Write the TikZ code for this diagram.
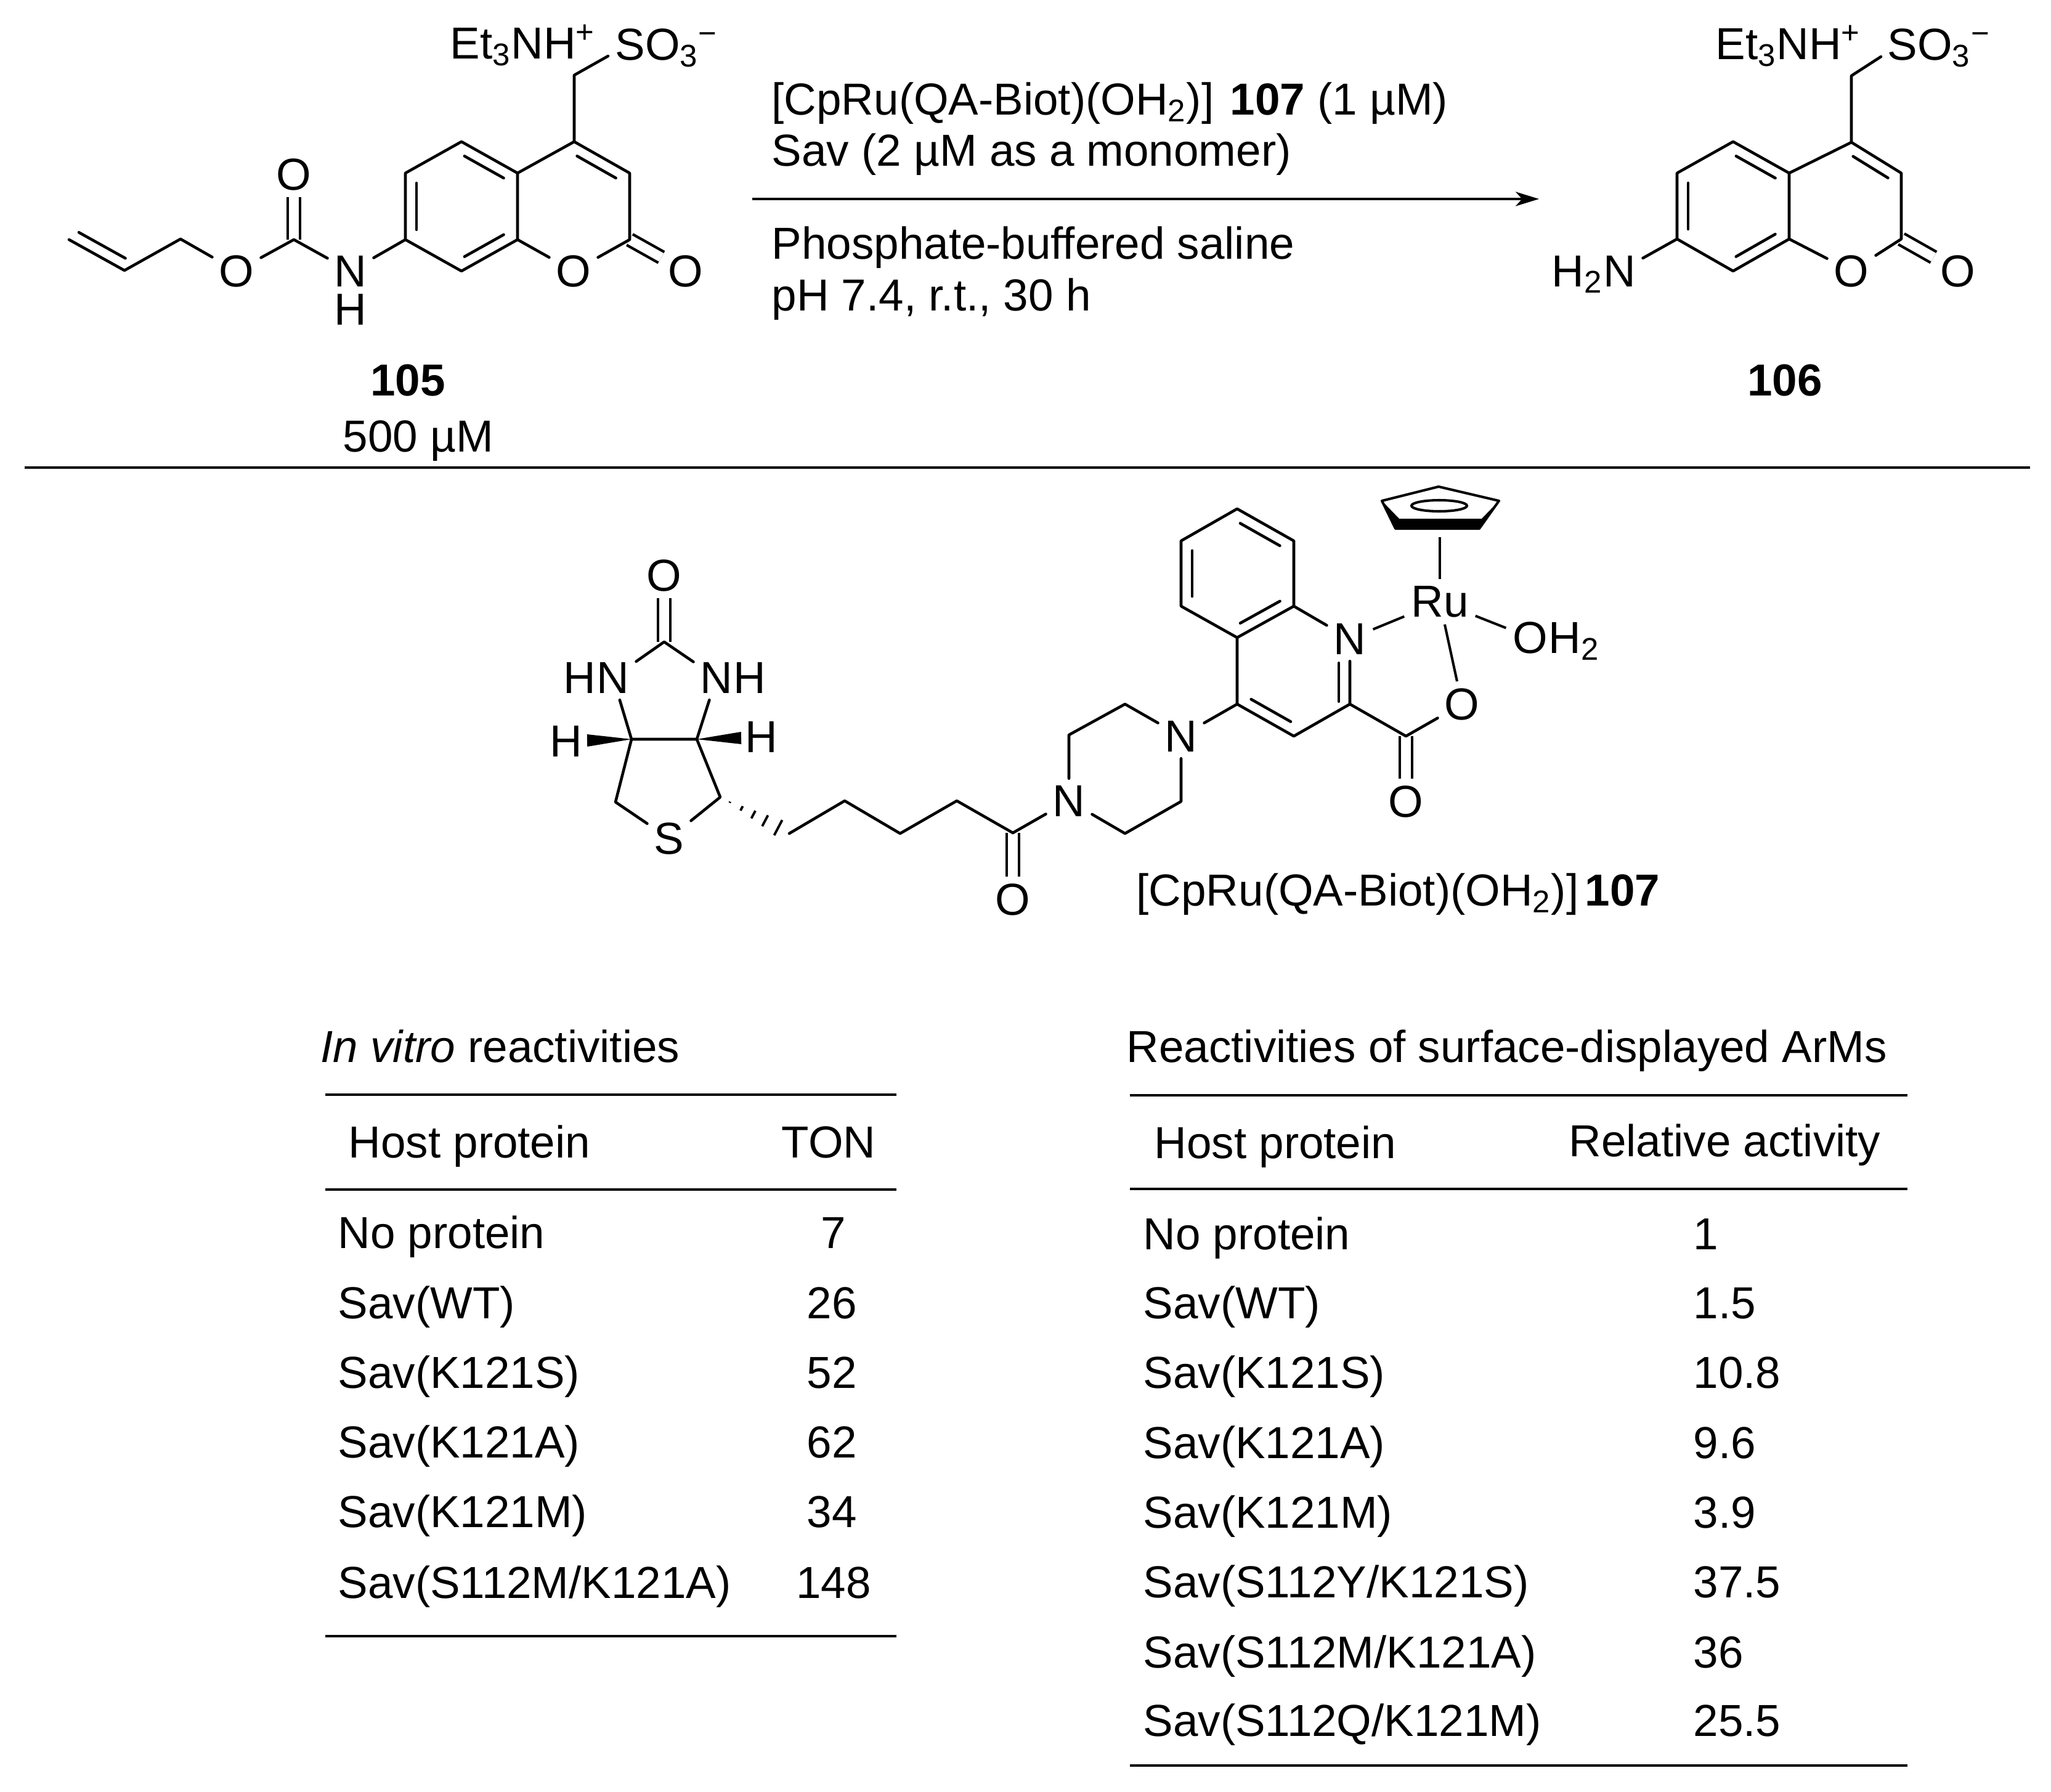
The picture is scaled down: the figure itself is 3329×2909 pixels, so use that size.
\documentclass[tikz,border=0pt]{standalone}
\usepackage{fontspec}
\setmainfont{Liberation Sans}
\usetikzlibrary{calc,positioning,arrows.meta}
\tikzset{
  bond/.style={line width=1.3pt,line cap=round,line join=round},
  dblbond/.style={line width=1.25pt,double=white,double distance=4.4pt},
  thinbond/.style={line width=1.15pt},
  tablerule/.style={line width=1.05pt},
  lbl/.style={anchor=base west,inner sep=0pt,yshift=-0.5pt,font=\fontsize{20.7}{24}\selectfont},
  val/.style={lbl,anchor=base},
  atom/.style={inner sep=3pt,font=\fontsize{20.7}{24}\selectfont},
}
% inner line of a double bond, on the left of a -> b
\newcommand{\innerbond}[3][0.15]{
  \draw[bond] ($(#2)!#1!(#3)!0.18cm!90:(#3)$) -- ($(#3)!#1!(#2)!0.18cm!-90:(#2)$);
}
\newcommand{\wedgebond}[2]{
  \fill (#1) -- ($(#2)!0.1cm!90:(#1)$) -- ($(#2)!0.1cm!-90:(#1)$) -- cycle;
}
\begin{document}
\begin{tikzpicture}[x=0.01cm,y=-0.01cm]
  \useasboundingbox (0,0) rectangle (3329,2909);

  % substrate 105
  \coordinate (a1) at (112,389);
  \coordinate (a2) at (202,439);
  \coordinate (a3) at (293,388);
  \node[atom] (ao1) at (384,440) {O};
  \coordinate (a4) at (477,389);
  \node[atom] (ao2) at (477,283) {O};
  \node[atom] (an1) at (569,440) {N};
  \node[atom,inner sep=0pt,below=0pt of an1] (ah1) {H};
  \coordinate (a7) at (658,389);
  \coordinate (a6) at (658,281);
  \coordinate (a5) at (749,230);
  \coordinate (a4a) at (840,281);
  \coordinate (a8a) at (840,389);
  \coordinate (a8) at (749,440);
  \coordinate (a9) at (932,230);
  \coordinate (a10) at (1022,281);
  \coordinate (a11) at (1022,389);
  \node[atom] (ao3) at (931,440) {O};
  \node[atom] (ao4) at (1113,440) {O};
  \coordinate (a12) at (932,122);
  \coordinate (as1) at (987,91);
  \node[lbl] (aet) at (730,94) {Et\textsubscript{3}NH\textsuperscript{+}};
  \node[lbl] (aso) at (998,96) {SO\textsubscript{3}\textsuperscript{−}};
  \draw[dblbond] (a4) -- (ao2);
  \draw[dblbond] (a11) -- (ao4);
  \draw[bond] (a1) -- (a2) -- (a3) -- (ao1) -- (a4) -- (an1) -- (a7) -- (a6) -- (a5) -- (a4a) -- (a8a) -- (a8) -- (a7);
  \draw[bond] (a8a) -- (ao3) -- (a11) -- (a10) -- (a9) -- (a4a);
  \draw[bond] (a9) -- (a12) -- (as1);
  \innerbond[0.08]{a1}{a2}
  \innerbond{a4a}{a5}
  \innerbond{a6}{a7}
  \innerbond{a8}{a8a}
  \innerbond{a10}{a9}
  \node[val,font=\fontsize{20.7}{24}\selectfont\bfseries] (alabel) at (662,641) {105};
  \node[val] (aconc) at (679,732) {500 µM};

  % reaction arrow and conditions
  \coordinate (arrowl) at (1221,323);
  \coordinate (arrowr) at (2498,323);
  \draw[line width=1.05pt,-{Stealth[length=10.8pt,width=6.6pt,inset=3pt]}] (arrowl) -- (arrowr);
  \node[lbl] (cond1) at (1252,185) {[CpRu(QA-Biot)(OH\textsubscript{2})]\hspace{0.36em}\textbf{107} (1 µM)};
  \node[lbl] (cond2) at (1252,268) {Sav (2 µM as a monomer)};
  \node[lbl] (cond3) at (1252,419) {Phosphate-buffered saline};
  \node[lbl] (cond4) at (1252,503) {pH 7.4, r.t., 30 h};

  % product 106
  \node[atom] (bn1) at (2629,440) {N};
  \node[atom,base left=-6pt of bn1] (bh1) {H\textsubscript{2}};
  \coordinate (b7) at (2722,388);
  \coordinate (b6) at (2722,281);
  \coordinate (b5) at (2813,230);
  \coordinate (b4a) at (2904,281);
  \coordinate (b8a) at (2904,388);
  \coordinate (b8) at (2813,440);
  \coordinate (b9) at (3005,231);
  \coordinate (b10) at (3086,281);
  \coordinate (b11) at (3086,388);
  \node[atom] (bo3) at (3005,440) {O};
  \node[atom] (bo4) at (3178,440) {O};
  \coordinate (b12) at (3005,123);
  \coordinate (bs1) at (3053,92);
  \node[lbl] (bet) at (2784,95) {Et\textsubscript{3}NH\textsuperscript{+}};
  \node[lbl] (bso) at (3063,96) {SO\textsubscript{3}\textsuperscript{−}};
  \draw[dblbond] (b11) -- (bo4);
  \draw[bond] (bn1) -- (b7) -- (b6) -- (b5) -- (b4a) -- (b8a) -- (b8) -- (b7);
  \draw[bond] (b8a) -- (bo3) -- (b11) -- (b10) -- (b9) -- (b4a);
  \draw[bond] (b9) -- (b12) -- (bs1);
  \innerbond{b4a}{b5}
  \innerbond{b6}{b7}
  \innerbond{b8}{b8a}
  \innerbond{b10}{b9}
  \node[val,font=\fontsize{20.7}{24}\selectfont\bfseries] (blabel) at (2897,641) {106};

  \coordinate (sepl) at (40,759);
  \coordinate (sepr) at (3295,759);
  \draw[line width=1.3pt] (sepl) -- (sepr);

  % catalyst 107, biotin part
  \node[atom] (co1) at (1078,934) {O};
  \coordinate (c1) at (1078,1042);
  \node[atom] (cn1) at (995,1100) {N};
  \node[atom,base left=-6pt of cn1] (chn1) {H};
  \node[atom] (cn2) at (1163,1100) {N};
  \node[atom,base right=-6pt of cn2] (chn2) {H};
  \coordinate (c2) at (1025,1200);
  \coordinate (c3) at (1131,1200);
  \node[atom] (ch1) at (919,1203) {H};
  \node[atom] (ch2) at (1236,1196) {H};
  \coordinate (cw1) at (953,1202);
  \coordinate (cw2) at (1203,1198);
  \coordinate (c4) at (999,1302);
  \node[atom] (cs1) at (1086,1361) {S};
  \coordinate (c5) at (1169,1294);
  \coordinate (c6) at (1281,1353);
  \coordinate (c7) at (1371,1300);
  \coordinate (c8) at (1461,1353);
  \coordinate (c9) at (1553,1300);
  \coordinate (c10) at (1644,1352);
  \node[atom] (co2) at (1644,1460) {O};
  \draw[dblbond] (c1) -- (co1);
  \draw[dblbond] (c10) -- (co2);
  \draw[bond] (cn1) -- (c1) -- (cn2) -- (c3) -- (c2) -- (cn1);
  \draw[bond] (c2) -- (c4) -- (cs1) -- (c5) -- (c3);
  \wedgebond{c2}{cw1}
  \wedgebond{c3}{cw2}
  \foreach \f/\h in {0.14/0.01,0.31/0.04,0.48/0.07,0.65/0.10,0.84/0.14}{
    \draw[line width=1.1pt] ($(c5)!\f!(c6)!\h cm!90:(c6)$) -- ($(c5)!\f!(c6)!\h cm!-90:(c6)$);
  }
  \draw[bond] (c6) -- (c7) -- (c8) -- (c9) -- (c10);

  % piperazine and quinoline
  \node[atom] (dn1) at (1735,1300) {N};
  \node[atom] (dn2) at (1917,1195) {N};
  \coordinate (d1) at (1735,1193);
  \coordinate (d2) at (1826,1143);
  \coordinate (d3) at (1917,1301);
  \coordinate (d4) at (1826,1353);
  \draw[bond] (c10) -- (dn1) -- (d1) -- (d2) -- (dn2) -- (d3) -- (d4) -- (dn1);
  \coordinate (q4) at (2008,1143);
  \coordinate (q4a) at (2008,1035);
  \coordinate (q8a) at (2100,984);
  \node[atom] (qn1) at (2191,1037) {N};
  \coordinate (qn1in) at (2191,1072);
  \coordinate (q2) at (2191,1143);
  \coordinate (q3) at (2100,1195);
  \coordinate (q8) at (2100,878);
  \coordinate (q7) at (2008,826);
  \coordinate (q6) at (1917,878);
  \coordinate (q5) at (1917,984);
  \coordinate (q9) at (2282,1195);
  \node[atom] (qo1) at (2373,1143) {O};
  \node[atom] (qo2) at (2282,1301) {O};
  \draw[dblbond] (q9) -- (qo2);
  \draw[bond] (dn2) -- (q4) -- (q4a) -- (q8a) -- (q8) -- (q7) -- (q6) -- (q5) -- (q4a);
  \draw[bond] (q8a) -- (qn1) -- (q2) -- (q3) -- (q4);
  \draw[bond] (q2) -- (q9) -- (qo1);
  \innerbond{q8}{q7}
  \innerbond{q6}{q5}
  \innerbond{q4a}{q8a}
  \innerbond{q4}{q3}
  \innerbond[0.06]{q2}{qn1in}

  % Ru centre with Cp ring
  \node[atom] (ru) at (2337,977) {Ru};
  \node[atom] (ro1) at (2484,1035) {O};
  \node[atom,base right=-6pt of ro1] (rh1) {H\textsubscript{2}};
  \coordinate (cp1) at (2335,790);
  \coordinate (cp2) at (2433,813);
  \coordinate (cp3) at (2401,858);
  \coordinate (cp4) at (2265,858);
  \coordinate (cp5) at (2243,813);
  \coordinate (cp6) at (2405,842);
  \coordinate (cp7) at (2271,842);
  \coordinate (cpc) at (2336,821);
  \coordinate (cpb) at (2337,872);
  \fill (cp5) -- (cp4) -- (cp3) -- (cp2) -- (cp6) -- (cp7) -- cycle;
  \draw[thinbond,line join=round] (cp1) -- (cp2) -- (cp3) -- (cp4) -- (cp5) -- cycle;
  \draw[thinbond] (cpc) ellipse [x radius=0.45cm,y radius=0.09cm];
  \draw[thinbond] (cpb) -- (ru);
  \draw[thinbond] (qn1) -- (ru);
  \draw[thinbond] (ru) -- (ro1);
  \draw[thinbond] (ru) -- (qo1);
  \node[lbl] (dlabel) at (1844,1469) {[CpRu(QA-Biot)(OH\textsubscript{2})]\hspace{0.14em}\textbf{107}};

  % left table
  \coordinate (l1) at (528,1777);
  \coordinate (l2) at (1455,1777);
  \coordinate (l3) at (528,1931);
  \coordinate (l4) at (1455,1931);
  \coordinate (l5) at (528,2656);
  \coordinate (l6) at (1455,2656);
  \draw[tablerule] (l1) -- (l2);
  \draw[tablerule] (l3) -- (l4);
  \draw[tablerule,line width=1.25pt] (l5) -- (l6);
  \node[lbl] (ltitle) at (520,1723) {\textit{In vitro} reactivities};
  \node[lbl] (lhost) at (565,1878) {Host protein};
  \node[val] (lton) at (1345,1878) {TON};
  \node[lbl] (lr1) at (548,2025) {No protein};
  \node[lbl] (lr2) at (548,2139) {Sav(WT)};
  \node[lbl] (lr3) at (548,2252) {Sav(K121S)};
  \node[lbl] (lr4) at (548,2365) {Sav(K121A)};
  \node[lbl] (lr5) at (548,2478) {Sav(K121M)};
  \node[lbl] (lr6) at (548,2593) {Sav(S112M/K121A)};
  \node[val] (lv1) at (1353,2025) {7};
  \node[val] (lv2) at (1350,2139) {26};
  \node[val] (lv3) at (1350,2252) {52};
  \node[val] (lv4) at (1350,2365) {62};
  \node[val] (lv5) at (1350,2478) {34};
  \node[val] (lv6) at (1353,2593) {148};

  % right table
  \coordinate (r1) at (1834,1778);
  \coordinate (r2) at (3096,1778);
  \coordinate (r3) at (1834,1930);
  \coordinate (r4) at (3096,1930);
  \coordinate (r5) at (1834,2866);
  \coordinate (r6) at (3096,2866);
  \draw[tablerule] (r1) -- (r2);
  \draw[tablerule] (r3) -- (r4);
  \draw[tablerule,line width=1.25pt] (r5) -- (r6);
  \node[lbl] (rtitle) at (1828,1723) {Reactivities of surface-displayed ArMs};
  \node[lbl] (rhost) at (1873,1879) {Host protein};
  \node[lbl] (ractivity) at (2546,1876) {Relative activity};
  \node[lbl] (rr1) at (1855,2027) {No protein};
  \node[lbl] (rr2) at (1855,2139) {Sav(WT)};
  \node[lbl] (rr3) at (1855,2252) {Sav(K121S)};
  \node[lbl] (rr4) at (1855,2366) {Sav(K121A)};
  \node[lbl] (rr5) at (1855,2479) {Sav(K121M)};
  \node[lbl] (rr6) at (1855,2592) {Sav(S112Y/K121S)};
  \node[lbl] (rr7) at (1855,2706) {Sav(S112M/K121A)};
  \node[lbl] (rr8) at (1855,2817) {Sav(S112Q/K121M)};
  \node[lbl] (rv1) at (2748,2027) {1};
  \node[lbl] (rv2) at (2748,2139) {1.5};
  \node[lbl] (rv3) at (2748,2252) {10.8};
  \node[lbl] (rv4) at (2748,2366) {9.6};
  \node[lbl] (rv5) at (2748,2479) {3.9};
  \node[lbl] (rv6) at (2748,2592) {37.5};
  \node[lbl] (rv7) at (2748,2706) {36};
  \node[lbl] (rv8) at (2748,2817) {25.5};
\end{tikzpicture}
\end{document}
